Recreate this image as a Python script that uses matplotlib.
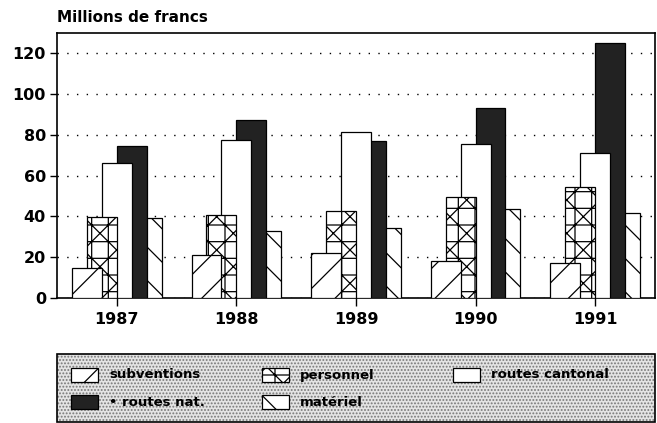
import matplotlib.pyplot as plt
from matplotlib.patches import Rectangle
import numpy as np

annees = ["1987", "1988", "1989", "1990", "1991"]

subventions = [14.5, 21, 22.2, 18, 17.2]
personnel = [39.5, 40.8, 42.6, 49.5, 54.4]
routes_cantonal = [66, 77.4, 81.4, 75.5, 71.3]
routes_nat = [74.8, 87.4, 77, 93.1, 125.2]
materiel = [39.2, 33, 34.3, 43.5, 41.9]

noms = ["subventions", "personnel", "routes cantonal", "\u2022 routes nat.", "mat\u00e9riel"]
hachures = ["/", "+x", "", "", "\\"]
couleurs = ["white", "white", "white", "#222222", "white"]

plt.rcParams['font.family'] = 'DejaVu Sans'
plt.rcParams['font.weight'] = 'bold'
plt.rcParams['hatch.linewidth'] = 0.9

fig = plt.figure(figsize=(6.57, 4.23), dpi=100)
ax = fig.add_axes([57/657, 125/423, 598/657, 265/423])

x = np.arange(len(annees))
series = [subventions, personnel, routes_cantonal, routes_nat, materiel]
decalages = [-0.25, -0.125, 0, 0.125, 0.25]
for i, valeurs in enumerate(series):
    ax.bar(x + decalages[i], valeurs, width=0.25, color=couleurs[i],
           edgecolor="black", linewidth=0.9, hatch=hachures[i], zorder=10 - i)

ax.set_xlim(-0.5, 4.5)
ax.set_ylim(0, 130)
ax.set_yticks(range(0, 130, 20))
ax.set_xticks(x)
ax.set_xticklabels(annees)
ax.tick_params(axis='both', labelsize=11.5, width=1, colors="black")
ax.tick_params(axis='y', length=5, pad=3)
ax.tick_params(axis='x', direction='inout', length=12, pad=4)
ax.yaxis.grid(True, color="black", linestyle=(0, (1, 6)), linewidth=1)
ax.set_axisbelow(True)
for s in ax.spines.values():
    s.set_linewidth(1.2)

fig.text(57/657, 1 - 18/423, "Millions de francs", fontsize=11, va="center", ha="left")

# legende
fond = Rectangle((57/657, 1 - 422/423), 598/657, 68/423, transform=fig.transFigure,
                 facecolor="#e4e4e4", edgecolor="#777777", hatch=".....", linewidth=0)
fig.add_artist(fond)
cadre = Rectangle((57/657, 1 - 422/423), 598/657, 68/423, transform=fig.transFigure,
                  facecolor="none", edgecolor="black", linewidth=1.2)
fig.add_artist(cadre)

positions = [(71, 375), (262, 375), (453, 375), (71, 402), (262, 402)]
for i, nom in enumerate(noms):
    px, py = positions[i]
    fig.add_artist(Rectangle((px/657, 1 - (py + 7)/423), 27/657, 14/423,
                             transform=fig.transFigure, facecolor=couleurs[i],
                             edgecolor="black", linewidth=0.9, hatch=hachures[i]))
    fig.text((px + 38)/657, 1 - py/423, nom, fontsize=9.5, va="center", ha="left")

fig.savefig("out.png", dpi=100)
